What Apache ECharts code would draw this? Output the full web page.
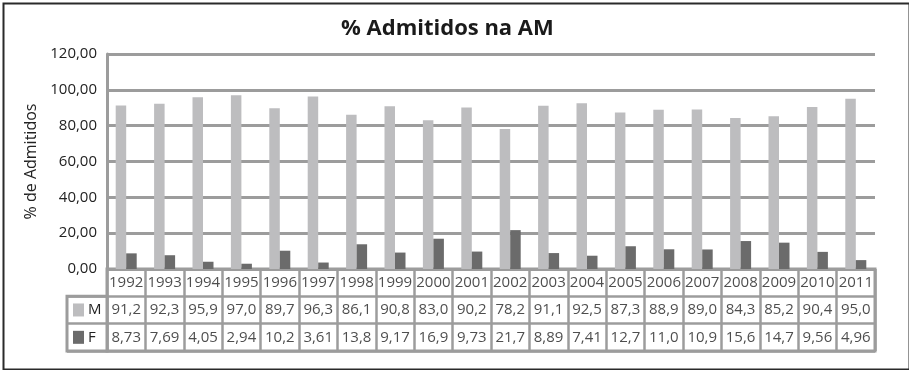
<!DOCTYPE html>
<html>
<head>
<meta charset="utf-8">
<script src="https://cdn.jsdelivr.net/npm/echarts@6/dist/echarts.min.js"></script>
<style>
html,body{margin:0;padding:0;background:#fff;}
#chart{width:909px;height:370px;}
</style>
</head>
<body>
<div id="chart"></div>
<script>
const years = ['1992','1993','1994','1995','1996','1997','1998','1999','2000','2001','2002','2003','2004','2005','2006','2007','2008','2009','2010','2011'];
const mValues = [91.2,92.3,95.9,97.0,89.7,96.3,86.1,90.8,83.0,90.2,78.2,91.1,92.5,87.3,88.9,89.0,84.3,85.2,90.4,95.0];
const fValues = [8.73,7.69,4.05,2.94,10.2,3.61,13.8,9.17,16.9,9.73,21.7,8.89,7.41,12.7,11.0,10.9,15.6,14.7,9.56,4.96];
const mLabels = ['91,2','92,3','95,9','97,0','89,7','96,3','86,1','90,8','83,0','90,2','78,2','91,1','92,5','87,3','88,9','89,0','84,3','85,2','90,4','95,0'];
const fLabels = ['8,73','7,69','4,05','2,94','10,2','3,61','13,8','9,17','16,9','9,73','21,7','8,89','7,41','12,7','11,0','10,9','15,6','14,7','9,56','4,96'];
const seriesNames = ['M','F'];
const tableRows = ['Y','M','F'];
const yTicks = {min:0, max:120, interval:20};

const colM = '#bdbdbf';
const colF = '#6b6b6b';
const gridCol = '#9c9c9c';
const FONT = 'Open Sans';

const tableData = [];
years.forEach((y,i)=>{
  tableData.push([y,'Y',y]);
  tableData.push([y,'M',mLabels[i]]);
  tableData.push([y,'F',fLabels[i]]);
});

const chart = echarts.init(document.getElementById('chart'), null, {renderer:'canvas'});
chart.setOption({
  animation:false,
  backgroundColor:'#fff',
  textStyle:{fontFamily:FONT},
  title:{
    text:'% Admitidos na AM',
    left:336, top:13,
    textStyle:{fontFamily:FONT, fontWeight:'bold', fontSize:22, color:'#1a1a1a'}
  },
  graphic:[{
    type:'rect', left:1, top:1, z:100,
    shape:{width:906, height:366},
    style:{fill:'none', stroke:'#2a2a2a', lineWidth:2}
  }],
  grid:[
    {left:107, top:54, width:768, height:215},
    {left:107, top:269, width:768, height:82, show:true, backgroundColor:'#fff', borderColor:gridCol, borderWidth:3},
    {left:67, top:296.3, width:40, height:54.7, show:true, backgroundColor:'#fff', borderColor:gridCol, borderWidth:3}
  ],
  xAxis:[
    {type:'category', gridIndex:0, data:years, axisLine:{show:false}, axisTick:{show:false}, axisLabel:{show:false}},
    {type:'category', gridIndex:1, data:years, axisLine:{show:false}, axisTick:{show:false}, axisLabel:{show:false},
      splitLine:{show:true, lineStyle:{color:gridCol, width:2.5}}},
    {type:'value', gridIndex:2, min:0, max:1, show:false}
  ],
  yAxis:[
    {type:'value', gridIndex:0, min:yTicks.min, max:yTicks.max, interval:yTicks.interval,
      name:'% de Admitidos', nameLocation:'middle', nameGap:62,
      nameTextStyle:{fontFamily:FONT, fontSize:16, color:'#222'},
      axisLine:{show:true, lineStyle:{color:gridCol, width:3}},
      axisTick:{show:false},
      axisLabel:{fontFamily:FONT, fontSize:15, color:'#222', margin:10,
        formatter:v=>v.toFixed(2).replace('.',',')},
      splitLine:{show:true, lineStyle:{color:gridCol, width:3}}},
    {type:'category', gridIndex:1, data:tableRows, inverse:true, axisLine:{show:false}, axisTick:{show:false}, axisLabel:{show:false},
      splitLine:{show:true, lineStyle:{color:gridCol, width:2.5}}},
    {type:'category', gridIndex:2, data:seriesNames, inverse:true, axisLine:{show:false}, axisTick:{show:false},
      splitLine:{show:true, lineStyle:{color:gridCol, width:2.5}},
      axisLabel:{inside:true, margin:6, verticalAlign:'middle',
        formatter:v=>'{'+(v==='M'?'sm':'sf')+'|}{t|'+v+'}',
        rich:{
          sm:{width:11, height:13, backgroundColor:colM},
          sf:{width:11, height:13, backgroundColor:colF},
          t:{fontFamily:FONT, fontSize:15, color:'#222', padding:[0,0,0,4]}
        }}}
  ],
  series:[
    {name:'M', type:'bar', xAxisIndex:0, yAxisIndex:0, data:mValues, barWidth:10.5, barGap:'0%', itemStyle:{color:colM}},
    {name:'F', type:'bar', xAxisIndex:0, yAxisIndex:0, data:fValues, barWidth:10.5, barGap:'0%', itemStyle:{color:colF}},
    {name:'table', type:'scatter', xAxisIndex:1, yAxisIndex:1, data:tableData, symbolSize:1,
      itemStyle:{color:'rgba(0,0,0,0)'}, silent:true,
      label:{show:true, position:'inside', fontFamily:FONT, fontSize:15, color:'#222',
        formatter:p=>p.value[2]}}
  ]
});
</script>
</body>
</html>
